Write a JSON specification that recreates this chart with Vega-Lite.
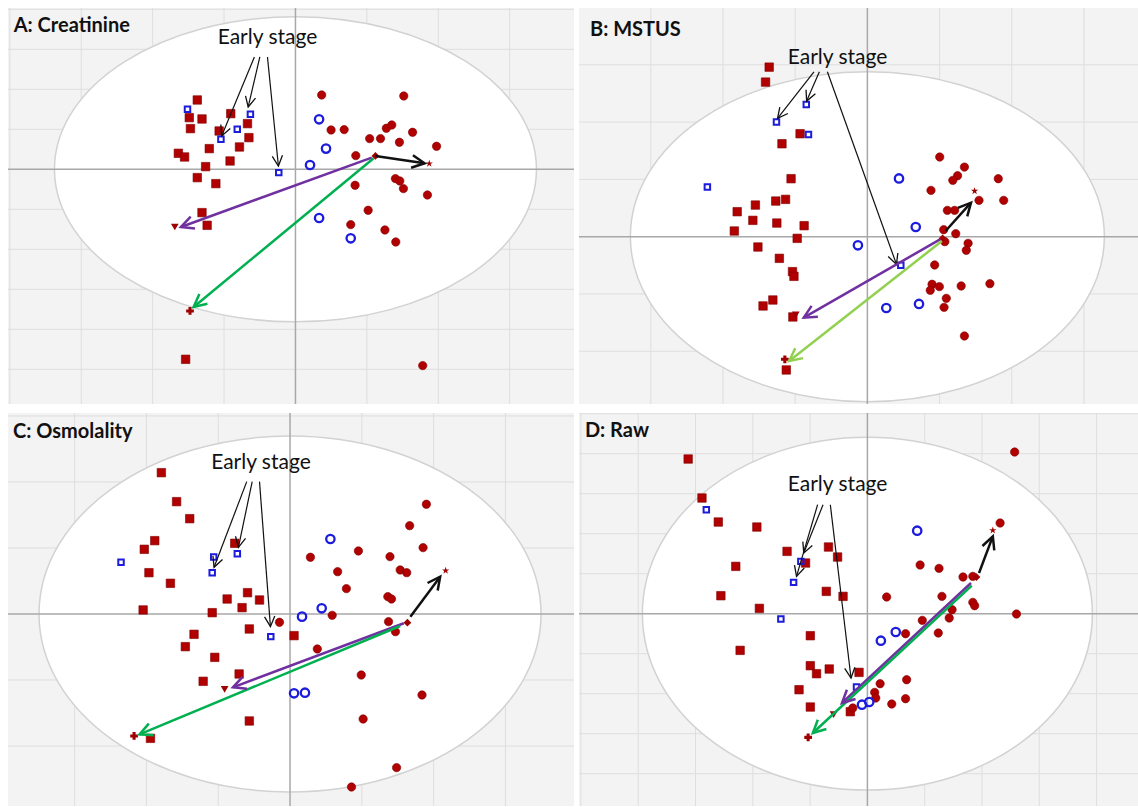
{
"$schema":"https://vega.github.io/schema/vega-lite/v6.json",
"background":"white",
"padding":{"left":7,"top":7,"right":0,"bottom":0},
"spacing":7,
"config":{"view":{"fill":"#f3f3f3","stroke":null},"axis":{"labels":false,"ticks":false,"domain":false,"grid":false,"title":null},"concat":{"spacing":3}},
"datasets":{
"A_pts":[
{"x":-1.375,"y":1.733,"g":"case"},{"x":-1.487,"y":1.292,"g":"case"},{"x":-1.309,"y":1.258,"g":"case"},{"x":-0.906,"y":1.392,"g":"case"},{"x":-0.672,"y":1.142,"g":"case"},{"x":-1.471,"y":1.017,"g":"case"},{"x":-1.069,"y":0.958,"g":"case"},{"x":-0.652,"y":0.792,"g":"case"},{"x":-1.207,"y":0.517,"g":"case"},{"x":-0.784,"y":0.558,"g":"case"},{"x":-1.64,"y":0.4,"g":"case"},{"x":-1.553,"y":0.308,"g":"case"},{"x":-0.916,"y":0.208,"g":"case"},{"x":-1.258,"y":0.067,"g":"case"},{"x":-1.375,"y":-0.208,"g":"case"},{"x":-1.115,"y":-0.358,"g":"case"},{"x":-1.309,"y":-1.083,"g":"case"},{"x":-1.237,"y":-1.4,"g":"case"},{"x":-1.538,"y":-4.75,"g":"case"},
{"x":-1.512,"y":1.5,"g":"case_test"},{"x":-1.044,"y":0.75,"g":"case_test"},{"x":-0.815,"y":1.0,"g":"case_test"},{"x":-0.631,"y":1.375,"g":"case_test"},{"x":-0.234,"y":-0.083,"g":"case_test"},
{"x":0.367,"y":1.858,"g":"control"},{"x":1.517,"y":1.833,"g":"control"},{"x":0.499,"y":0.983,"g":"control"},{"x":0.682,"y":0.992,"g":"control"},{"x":1.273,"y":1.025,"g":"control"},{"x":1.349,"y":1.108,"g":"control"},{"x":1.64,"y":0.925,"g":"control"},{"x":1.039,"y":0.767,"g":"control"},{"x":1.191,"y":0.767,"g":"control"},{"x":1.456,"y":0.675,"g":"control"},{"x":1.976,"y":0.575,"g":"control"},{"x":0.845,"y":0.342,"g":"control"},{"x":1.4,"y":-0.233,"g":"control"},{"x":1.461,"y":-0.292,"g":"control"},{"x":1.512,"y":-0.483,"g":"control"},{"x":0.835,"y":-0.4,"g":"control"},{"x":1.848,"y":-0.642,"g":"control"},{"x":1.018,"y":-1.025,"g":"control"},{"x":0.774,"y":-1.383,"g":"control"},{"x":1.253,"y":-1.517,"g":"control"},{"x":1.405,"y":-1.817,"g":"control"},{"x":1.782,"y":-4.908,"g":"control"},
{"x":0.331,"y":1.25,"g":"control_test"},{"x":0.428,"y":0.517,"g":"control_test"},{"x":0.204,"y":0.108,"g":"control_test"},{"x":0.331,"y":-1.217,"g":"control_test"},{"x":0.774,"y":-1.725,"g":"control_test"},
{"x":1.12,"y":0.333,"g":"origin"},{"x":1.874,"y":0.142,"g":"star"},{"x":-1.69,"y":-1.442,"g":"tri"},{"x":-1.477,"y":-3.542,"g":"plus"}],
"A_arr":[
{"x":-0.575,"y":2.808,"x2":-1.034,"y2":0.833,"k":"label"},{"x":-0.499,"y":2.808,"x2":-0.662,"y2":1.558,"k":"label"},{"x":-0.392,"y":2.808,"x2":-0.239,"y2":0.083,"k":"label"},
{"x":1.12,"y":0.333,"x2":1.808,"y2":0.15,"k":"shift"},{"x":1.069,"y":0.292,"x2":-1.604,"y2":-1.442,"k":"purple"},{"x":1.095,"y":0.275,"x2":-1.426,"y2":-3.442,"k":"green"}],
"B_pts":[
{"x":-1.36,"y":2.959,"g":"case"},{"x":-1.41,"y":2.698,"g":"case"},{"x":-0.932,"y":1.797,"g":"case"},{"x":-1.183,"y":1.622,"g":"case"},{"x":-1.057,"y":1.012,"g":"case"},{"x":-1.133,"y":0.651,"g":"case"},{"x":-1.269,"y":0.622,"g":"case"},{"x":-1.551,"y":0.552,"g":"case"},{"x":-1.803,"y":0.436,"g":"case"},{"x":-1.586,"y":0.285,"g":"case"},{"x":-1.254,"y":0.238,"g":"case"},{"x":-0.876,"y":0.192,"g":"case"},{"x":-1.843,"y":0.099,"g":"case"},{"x":-0.972,"y":-0.029,"g":"case"},{"x":-1.516,"y":-0.18,"g":"case"},{"x":-1.219,"y":-0.378,"g":"case"},{"x":-1.037,"y":-0.61,"g":"case"},{"x":-1.017,"y":-0.692,"g":"case"},{"x":-1.309,"y":-1.105,"g":"case"},{"x":-1.445,"y":-1.209,"g":"case"},{"x":-1.032,"y":-1.401,"g":"case"},{"x":-1.123,"y":-2.326,"g":"case"},
{"x":-0.846,"y":2.308,"g":"case_test"},{"x":-1.259,"y":2.0,"g":"case_test"},{"x":-0.816,"y":1.785,"g":"case_test"},{"x":-2.216,"y":0.866,"g":"case_test"},{"x":0.463,"y":-0.5,"g":"case_test"},
{"x":1.002,"y":1.39,"g":"control"},{"x":1.344,"y":1.215,"g":"control"},{"x":1.249,"y":1.064,"g":"control"},{"x":1.183,"y":0.983,"g":"control"},{"x":1.813,"y":1.012,"g":"control"},{"x":0.881,"y":0.808,"g":"control"},{"x":1.546,"y":0.634,"g":"control"},{"x":1.888,"y":0.634,"g":"control"},{"x":1.108,"y":0.459,"g":"control"},{"x":1.208,"y":0.459,"g":"control"},{"x":1.057,"y":0.122,"g":"control"},{"x":1.224,"y":0.052,"g":"control"},{"x":1.073,"y":-0.087,"g":"control"},{"x":1.395,"y":-0.116,"g":"control"},{"x":1.37,"y":-0.238,"g":"control"},{"x":0.932,"y":-0.494,"g":"control"},{"x":0.896,"y":-0.831,"g":"control"},{"x":0.997,"y":-0.872,"g":"control"},{"x":0.871,"y":-0.936,"g":"control"},{"x":1.299,"y":-0.86,"g":"control"},{"x":1.697,"y":-0.82,"g":"control"},{"x":1.093,"y":-1.076,"g":"control"},{"x":1.062,"y":-1.233,"g":"control"},{"x":1.344,"y":-1.733,"g":"control"},
{"x":0.438,"y":1.017,"g":"control_test"},{"x":0.67,"y":0.169,"g":"control_test"},{"x":-0.131,"y":-0.151,"g":"control_test"},{"x":0.262,"y":-1.244,"g":"control_test"},{"x":0.715,"y":-1.174,"g":"control_test"},
{"x":1.042,"y":-0.029,"g":"origin"},{"x":1.485,"y":0.797,"g":"star"},{"x":-0.992,"y":-1.366,"g":"tri"},{"x":-1.143,"y":-2.14,"g":"plus"}],
"B_arr":[
{"x":-0.74,"y":2.878,"x2":-1.244,"y2":2.064,"k":"label"},{"x":-0.665,"y":2.878,"x2":-0.841,"y2":2.366,"k":"label"},{"x":-0.554,"y":2.878,"x2":0.403,"y2":-0.483,"k":"label"},
{"x":1.083,"y":0.099,"x2":1.435,"y2":0.593,"k":"shift"},{"x":1.007,"y":-0.047,"x2":-0.881,"y2":-1.413,"k":"purple"},{"x":1.032,"y":-0.076,"x2":-1.083,"y2":-2.169,"k":"lightgreen"}],
"C_pts":[
{"x":-1.792,"y":2.141,"g":"case"},{"x":-1.58,"y":1.702,"g":"case"},{"x":-1.397,"y":1.444,"g":"case"},{"x":-1.884,"y":1.111,"g":"case"},{"x":-2.03,"y":0.98,"g":"case"},{"x":-0.77,"y":1.071,"g":"case"},{"x":-1.965,"y":0.626,"g":"case"},{"x":-1.666,"y":0.465,"g":"case"},{"x":-0.592,"y":0.323,"g":"case"},{"x":-0.876,"y":0.227,"g":"case"},{"x":-0.425,"y":0.212,"g":"case"},{"x":-0.668,"y":0.096,"g":"case"},{"x":-2.046,"y":0.061,"g":"case"},{"x":-1.084,"y":0.02,"g":"case"},{"x":-0.567,"y":-0.227,"g":"case"},{"x":-1.337,"y":-0.308,"g":"case"},{"x":0.056,"y":-0.328,"g":"case"},{"x":-1.458,"y":-0.495,"g":"case"},{"x":-1.048,"y":-0.657,"g":"case"},{"x":-0.709,"y":-0.909,"g":"case"},{"x":-1.21,"y":-1.02,"g":"case"},{"x":-0.567,"y":-1.621,"g":"case"},{"x":-1.944,"y":-1.884,"g":"case"},
{"x":-2.354,"y":0.783,"g":"case_test"},{"x":-1.063,"y":0.864,"g":"case_test"},{"x":-1.084,"y":0.626,"g":"case_test"},{"x":-0.734,"y":0.914,"g":"case_test"},{"x":-0.268,"y":-0.343,"g":"case_test"},
{"x":1.899,"y":1.662,"g":"control"},{"x":1.666,"y":1.338,"g":"control"},{"x":1.853,"y":1.005,"g":"control"},{"x":0.952,"y":0.955,"g":"control"},{"x":0.284,"y":0.859,"g":"control"},{"x":1.392,"y":0.869,"g":"control"},{"x":0.663,"y":0.641,"g":"control"},{"x":1.534,"y":0.667,"g":"control"},{"x":1.625,"y":0.626,"g":"control"},{"x":0.785,"y":0.384,"g":"control"},{"x":1.362,"y":0.263,"g":"control"},{"x":1.413,"y":0.227,"g":"control"},{"x":0.587,"y":-0.02,"g":"control"},{"x":-0.147,"y":-0.126,"g":"control"},{"x":1.372,"y":-0.116,"g":"control"},{"x":1.468,"y":-0.268,"g":"control"},{"x":0.38,"y":-0.53,"g":"control"},{"x":0.992,"y":-0.924,"g":"control"},{"x":1.838,"y":-1.227,"g":"control"},{"x":1.018,"y":-1.591,"g":"control"},{"x":1.484,"y":-2.328,"g":"control"},{"x":0.856,"y":-2.621,"g":"control"},
{"x":0.562,"y":1.136,"g":"control_test"},{"x":0.167,"y":-0.04,"g":"control_test"},{"x":0.441,"y":0.086,"g":"control_test"},{"x":0.056,"y":-1.202,"g":"control_test"},{"x":0.208,"y":-1.192,"g":"control_test"},
{"x":1.635,"y":-0.131,"g":"origin"},{"x":2.167,"y":0.657,"g":"star"},{"x":-0.911,"y":-1.141,"g":"tri"},{"x":-2.172,"y":-1.848,"g":"plus"}],
"C_arr":[
{"x":-0.603,"y":2.005,"x2":-1.058,"y2":0.707,"k":"label"},{"x":-0.527,"y":2.005,"x2":-0.719,"y2":1.01,"k":"label"},{"x":-0.425,"y":2.005,"x2":-0.273,"y2":-0.192,"k":"label"},
{"x":1.676,"y":-0.04,"x2":2.091,"y2":0.566,"k":"shift"},{"x":1.585,"y":-0.141,"x2":-0.795,"y2":-1.111,"k":"purple"},{"x":1.534,"y":-0.182,"x2":-2.096,"y2":-1.823,"k":"green"}],
"D_pts":[
{"x":-3.128,"y":3.867,"g":"case"},{"x":-2.887,"y":2.892,"g":"case"},{"x":-2.602,"y":2.292,"g":"case"},{"x":-1.929,"y":2.167,"g":"case"},{"x":-1.402,"y":1.558,"g":"case"},{"x":-0.679,"y":1.667,"g":"case"},{"x":-0.52,"y":1.417,"g":"case"},{"x":-1.079,"y":1.267,"g":"case"},{"x":-2.297,"y":1.183,"g":"case"},{"x":-0.717,"y":0.558,"g":"case"},{"x":-0.425,"y":0.433,"g":"case"},{"x":-2.557,"y":0.45,"g":"case"},{"x":-1.885,"y":0.133,"g":"case"},{"x":-0.996,"y":-0.55,"g":"case"},{"x":-2.221,"y":-0.917,"g":"case"},{"x":-0.996,"y":-1.3,"g":"case"},{"x":-0.888,"y":-1.5,"g":"case"},{"x":-0.666,"y":-1.383,"g":"case"},{"x":-0.146,"y":-1.467,"g":"case"},{"x":-1.193,"y":-1.9,"g":"case"},{"x":-0.996,"y":-2.333,"g":"case"},{"x":-0.298,"y":-2.45,"g":"case"},
{"x":-2.811,"y":2.6,"g":"case_test"},{"x":-1.161,"y":1.308,"g":"case_test"},{"x":-1.288,"y":0.783,"g":"case_test"},{"x":-1.51,"y":-0.133,"g":"case_test"},{"x":-0.19,"y":-1.833,"g":"case_test"},
{"x":2.57,"y":4.042,"g":"control"},{"x":2.316,"y":2.267,"g":"control"},{"x":0.92,"y":1.217,"g":"control"},{"x":1.25,"y":1.133,"g":"control"},{"x":1.669,"y":0.917,"g":"control"},{"x":1.84,"y":0.933,"g":"control"},{"x":0.336,"y":0.417,"g":"control"},{"x":1.301,"y":0.433,"g":"control"},{"x":1.84,"y":0.283,"g":"control"},{"x":1.872,"y":0.2,"g":"control"},{"x":1.478,"y":0.1,"g":"control"},{"x":1.428,"y":-0.108,"g":"control"},{"x":0.958,"y":-0.167,"g":"control"},{"x":2.602,"y":-0.008,"g":"control"},{"x":1.237,"y":-0.483,"g":"control"},{"x":0.666,"y":-0.5,"g":"control"},{"x":0.222,"y":-1.75,"g":"control"},{"x":0.685,"y":-1.65,"g":"control"},{"x":0.127,"y":-1.967,"g":"control"},{"x":0.146,"y":-2.108,"g":"control"},{"x":0.425,"y":-2.258,"g":"control"},{"x":0.666,"y":-2.125,"g":"control"},{"x":-0.254,"y":-2.358,"g":"control"},
{"x":0.869,"y":2.075,"g":"control_test"},{"x":0.495,"y":-0.458,"g":"control_test"},{"x":0.235,"y":-0.675,"g":"control_test"},{"x":-0.095,"y":-2.275,"g":"control_test"},{"x":0.032,"y":-2.208,"g":"control_test"},
{"x":1.904,"y":0.917,"g":"origin"},{"x":2.189,"y":2.083,"g":"star"},{"x":-0.59,"y":-2.525,"g":"tri"},{"x":-1.034,"y":-3.092,"g":"plus"}],
"D_arr":[
{"x":-0.869,"y":2.725,"x2":-1.237,"y2":0.933,"k":"label"},{"x":-0.774,"y":2.725,"x2":-1.11,"y2":1.517,"k":"label"},{"x":-0.647,"y":2.725,"x2":-0.286,"y2":-1.608,"k":"label"},
{"x":1.948,"y":1.017,"x2":2.189,"y2":1.933,"k":"shift"},{"x":1.808,"y":0.767,"x2":-0.444,"y2":-2.233,"k":"purple"},{"x":1.821,"y":0.7,"x2":-0.952,"y2":-2.983,"k":"green"}]
},
"vconcat":[
{"hconcat":[
{"width":566,"height":396,"layer":[
{"data":{"values":[{"x":-4},{"x":-3},{"x":-2},{"x":-1},{"x":1},{"x":2},{"x":3}]},"mark":{"type":"rule","color":"#dedede","strokeWidth":1},"encoding":{"x":{"field":"x","type":"quantitative","scale":{"domain":[-4.026,3.901],"nice":false,"zero":false},"axis":null}}},
{"data":{"values":[{"y":-5},{"y":-4},{"y":-3},{"y":-2},{"y":-1},{"y":1},{"y":2},{"y":3},{"y":4}]},"mark":{"type":"rule","color":"#dedede","strokeWidth":1},"encoding":{"y":{"field":"y","type":"quantitative","scale":{"domain":[-5.8675,4.0325],"nice":false,"zero":false},"axis":null}}},
{"data":{"values":[{"x":0,"y":0}]},"mark":{"type":"point","shape":"M-1,0C-1,-0.3496 -0.5523,-0.633 0,-0.633C0.5523,-0.633 1,-0.3496 1,0C1,0.3496 0.5523,0.633 0,0.633C-0.5523,0.633 -1,0.3496 -1,0Z","size":232324,"filled":true,"fill":"white","stroke":"#d2d2d2","strokeWidth":1.5,"opacity":1},
 "encoding":{"x":{"field":"x","type":"quantitative","scale":{"domain":[-4.026,3.901],"nice":false,"zero":false},"axis":null},"y":{"field":"y","type":"quantitative","scale":{"domain":[-5.8675,4.0325],"nice":false,"zero":false},"axis":null}}},
{"data":{"values":[{"x":0}]},"mark":{"type":"rule","color":"#a8a8a8","strokeWidth":1.5},"encoding":{"x":{"field":"x","type":"quantitative","scale":{"domain":[-4.026,3.901],"nice":false,"zero":false},"axis":null}}},
{"data":{"values":[{"y":0}]},"mark":{"type":"rule","color":"#a8a8a8","strokeWidth":1.5},"encoding":{"y":{"field":"y","type":"quantitative","scale":{"domain":[-5.8675,4.0325],"nice":false,"zero":false},"axis":null}}},
{"data":{"name":"A_pts"},"transform":[{"filter":"datum.g=='case'"}],"mark":{"type":"point","shape":"square","filled":true,"fill":"#b00000","stroke":"#820000","strokeWidth":0.6,"size":72,"opacity":1},"encoding":{"x":{"field":"x","type":"quantitative","scale":{"domain":[-4.026,3.901],"nice":false,"zero":false},"axis":null},"y":{"field":"y","type":"quantitative","scale":{"domain":[-5.8675,4.0325],"nice":false,"zero":false},"axis":null}}},
{"data":{"name":"A_pts"},"transform":[{"filter":"datum.g=='control'"}],"mark":{"type":"point","shape":"circle","filled":true,"fill":"#b00000","stroke":"#820000","strokeWidth":0.6,"size":70,"opacity":1},"encoding":{"x":{"field":"x","type":"quantitative","scale":{"domain":[-4.026,3.901],"nice":false,"zero":false},"axis":null},"y":{"field":"y","type":"quantitative","scale":{"domain":[-5.8675,4.0325],"nice":false,"zero":false},"axis":null}}},
{"data":{"name":"A_pts"},"transform":[{"filter":"datum.g=='case_test'"}],"mark":{"type":"point","shape":"square","filled":false,"stroke":"#1c1cdc","strokeWidth":2,"size":30,"opacity":1},"encoding":{"x":{"field":"x","type":"quantitative","scale":{"domain":[-4.026,3.901],"nice":false,"zero":false},"axis":null},"y":{"field":"y","type":"quantitative","scale":{"domain":[-5.8675,4.0325],"nice":false,"zero":false},"axis":null}}},
{"data":{"name":"A_pts"},"transform":[{"filter":"datum.g=='control_test'"}],"mark":{"type":"point","shape":"circle","filled":false,"stroke":"#1c1cdc","strokeWidth":2.3,"size":70,"opacity":1},"encoding":{"x":{"field":"x","type":"quantitative","scale":{"domain":[-4.026,3.901],"nice":false,"zero":false},"axis":null},"y":{"field":"y","type":"quantitative","scale":{"domain":[-5.8675,4.0325],"nice":false,"zero":false},"axis":null}}},
{"data":{"name":"A_pts"},"transform":[{"filter":"indexof(['origin','star','tri','plus'],datum.g)>=0"}],"mark":{"type":"point","filled":true,"fill":"#a00000","size":60,"opacity":1},"encoding":{"x":{"field":"x","type":"quantitative","scale":{"domain":[-4.026,3.901],"nice":false,"zero":false},"axis":null},"y":{"field":"y","type":"quantitative","scale":{"domain":[-5.8675,4.0325],"nice":false,"zero":false},"axis":null},"shape":{"field":"g","type":"nominal","scale":{"domain":["origin","star","tri","plus"],"range":["diamond","M0,-1L0.2245,-0.309L0.951,-0.309L0.363,0.118L0.588,0.809L0,0.382L-0.588,0.809L-0.363,0.118L-0.951,-0.309L-0.2245,-0.309Z","triangle-down","cross"]},"legend":null}}},
{"data":{"name":"A_arr"},"transform":[{"filter":"datum.k=='label'"}],"mark":{"type":"rule","color":"#111111","strokeWidth":1.2},"encoding":{"x":{"field":"x","type":"quantitative","scale":{"domain":[-4.026,3.901],"nice":false,"zero":false},"axis":null},"y":{"field":"y","type":"quantitative","scale":{"domain":[-5.8675,4.0325],"nice":false,"zero":false},"axis":null},"x2":{"field":"x2"},"y2":{"field":"y2"}}},
{"data":{"name":"A_arr"},"transform":[{"filter":"datum.k=='label'"},{"calculate":"atan2((datum.x2-datum.x)*71.4,(datum.y2-datum.y)*40)*180/PI","as":"ang"}],"mark":{"type":"point","shape":"M-0.5,1L0,0L0.5,1","filled":false,"stroke":"#111111","strokeWidth":1.3,"size":420,"opacity":1},"encoding":{"x":{"field":"x2","type":"quantitative","scale":{"domain":[-4.026,3.901],"nice":false,"zero":false},"axis":null},"y":{"field":"y2","type":"quantitative","scale":{"domain":[-5.8675,4.0325],"nice":false,"zero":false},"axis":null},"angle":{"field":"ang","type":"quantitative","scale":null}}},
{"data":{"name":"A_arr"},"transform":[{"filter":"datum.k!='label'"}],"mark":{"type":"rule","strokeWidth":2.5},"encoding":{"x":{"field":"x","type":"quantitative","scale":{"domain":[-4.026,3.901],"nice":false,"zero":false},"axis":null},"y":{"field":"y","type":"quantitative","scale":{"domain":[-5.8675,4.0325],"nice":false,"zero":false},"axis":null},"x2":{"field":"x2"},"y2":{"field":"y2"},"color":{"field":"k","type":"nominal","scale":{"domain":["shift","purple","green","lightgreen"],"range":["#111111","#7030a0","#00b050","#92d050"]},"legend":null}}},
{"data":{"name":"A_arr"},"transform":[{"filter":"datum.k!='label'"},{"calculate":"atan2((datum.x2-datum.x)*71.4,(datum.y2-datum.y)*40)*180/PI","as":"ang"}],"mark":{"type":"point","shape":"M-0.5,1L0,0L0.5,1","filled":false,"strokeWidth":2.5,"size":640,"opacity":1},"encoding":{"x":{"field":"x2","type":"quantitative","scale":{"domain":[-4.026,3.901],"nice":false,"zero":false},"axis":null},"y":{"field":"y2","type":"quantitative","scale":{"domain":[-5.8675,4.0325],"nice":false,"zero":false},"axis":null},"angle":{"field":"ang","type":"quantitative","scale":null},"color":{"field":"k","type":"nominal","scale":{"domain":["shift","purple","green","lightgreen"],"range":["#111111","#7030a0","#00b050","#92d050"]},"legend":null}}},
{"data":{"values":[{"x":-0.392,"y":3.29,"t":"Early stage"}]},"mark":{"type":"text","font":"Lato","fontSize":21,"color":"#111111","align":"center","baseline":"middle"},"encoding":{"x":{"field":"x","type":"quantitative","scale":{"domain":[-4.026,3.901],"nice":false,"zero":false},"axis":null},"y":{"field":"y","type":"quantitative","scale":{"domain":[-5.8675,4.0325],"nice":false,"zero":false},"axis":null},"text":{"field":"t"}}},
{"data":{"values":[{"x":-3.946,"y":3.583,"t":"A: Creatinine"}]},"mark":{"type":"text","font":"Lato","fontSize":20,"fontWeight":"bold","color":"#111111","align":"left","baseline":"middle"},"encoding":{"x":{"field":"x","type":"quantitative","scale":{"domain":[-4.026,3.901],"nice":false,"zero":false},"axis":null},"y":{"field":"y","type":"quantitative","scale":{"domain":[-5.8675,4.0325],"nice":false,"zero":false},"axis":null},"text":{"field":"t"}}}
]},
{"width":560,"height":396,"layer":[
{"data":{"values":[{"x":-3},{"x":-2},{"x":-1},{"x":1},{"x":2},{"x":3}]},"mark":{"type":"rule","color":"#dedede","strokeWidth":1},"encoding":{"x":{"field":"x","type":"quantitative","scale":{"domain":[-3.994,3.762],"nice":false,"zero":false},"axis":null}}},
{"data":{"values":[{"y":-2},{"y":-1},{"y":1},{"y":2},{"y":3}]},"mark":{"type":"rule","color":"#dedede","strokeWidth":1},"encoding":{"y":{"field":"y","type":"quantitative","scale":{"domain":[-2.92,3.991],"nice":false,"zero":false},"axis":null}}},
{"data":{"values":[{"x":0,"y":0}]},"mark":{"type":"point","shape":"M-1,0C-1,-0.3844 -0.5523,-0.696 0,-0.696C0.5523,-0.696 1,-0.3844 1,0C1,0.3844 0.5523,0.696 0,0.696C-0.5523,0.696 -1,0.3844 -1,0Z","size":224676,"filled":true,"fill":"white","stroke":"#d2d2d2","strokeWidth":1.5,"opacity":1},
 "encoding":{"x":{"field":"x","type":"quantitative","scale":{"domain":[-3.994,3.762],"nice":false,"zero":false},"axis":null},"y":{"field":"y","type":"quantitative","scale":{"domain":[-2.92,3.991],"nice":false,"zero":false},"axis":null}}},
{"data":{"values":[{"x":0}]},"mark":{"type":"rule","color":"#a8a8a8","strokeWidth":1.5},"encoding":{"x":{"field":"x","type":"quantitative","scale":{"domain":[-3.994,3.762],"nice":false,"zero":false},"axis":null}}},
{"data":{"values":[{"y":0}]},"mark":{"type":"rule","color":"#a8a8a8","strokeWidth":1.5},"encoding":{"y":{"field":"y","type":"quantitative","scale":{"domain":[-2.92,3.991],"nice":false,"zero":false},"axis":null}}},
{"data":{"name":"B_pts"},"transform":[{"filter":"datum.g=='case'"}],"mark":{"type":"point","shape":"square","filled":true,"fill":"#b00000","stroke":"#820000","strokeWidth":0.6,"size":72,"opacity":1},"encoding":{"x":{"field":"x","type":"quantitative","scale":{"domain":[-3.994,3.762],"nice":false,"zero":false},"axis":null},"y":{"field":"y","type":"quantitative","scale":{"domain":[-2.92,3.991],"nice":false,"zero":false},"axis":null}}},
{"data":{"name":"B_pts"},"transform":[{"filter":"datum.g=='control'"}],"mark":{"type":"point","shape":"circle","filled":true,"fill":"#b00000","stroke":"#820000","strokeWidth":0.6,"size":70,"opacity":1},"encoding":{"x":{"field":"x","type":"quantitative","scale":{"domain":[-3.994,3.762],"nice":false,"zero":false},"axis":null},"y":{"field":"y","type":"quantitative","scale":{"domain":[-2.92,3.991],"nice":false,"zero":false},"axis":null}}},
{"data":{"name":"B_pts"},"transform":[{"filter":"datum.g=='case_test'"}],"mark":{"type":"point","shape":"square","filled":false,"stroke":"#1c1cdc","strokeWidth":2,"size":30,"opacity":1},"encoding":{"x":{"field":"x","type":"quantitative","scale":{"domain":[-3.994,3.762],"nice":false,"zero":false},"axis":null},"y":{"field":"y","type":"quantitative","scale":{"domain":[-2.92,3.991],"nice":false,"zero":false},"axis":null}}},
{"data":{"name":"B_pts"},"transform":[{"filter":"datum.g=='control_test'"}],"mark":{"type":"point","shape":"circle","filled":false,"stroke":"#1c1cdc","strokeWidth":2.3,"size":70,"opacity":1},"encoding":{"x":{"field":"x","type":"quantitative","scale":{"domain":[-3.994,3.762],"nice":false,"zero":false},"axis":null},"y":{"field":"y","type":"quantitative","scale":{"domain":[-2.92,3.991],"nice":false,"zero":false},"axis":null}}},
{"data":{"name":"B_pts"},"transform":[{"filter":"indexof(['origin','star','tri','plus'],datum.g)>=0"}],"mark":{"type":"point","filled":true,"fill":"#a00000","size":60,"opacity":1},"encoding":{"x":{"field":"x","type":"quantitative","scale":{"domain":[-3.994,3.762],"nice":false,"zero":false},"axis":null},"y":{"field":"y","type":"quantitative","scale":{"domain":[-2.92,3.991],"nice":false,"zero":false},"axis":null},"shape":{"field":"g","type":"nominal","scale":{"domain":["origin","star","tri","plus"],"range":["diamond","M0,-1L0.2245,-0.309L0.951,-0.309L0.363,0.118L0.588,0.809L0,0.382L-0.588,0.809L-0.363,0.118L-0.951,-0.309L-0.2245,-0.309Z","triangle-down","cross"]},"legend":null}}},
{"data":{"name":"B_arr"},"transform":[{"filter":"datum.k=='label'"}],"mark":{"type":"rule","color":"#111111","strokeWidth":1.2},"encoding":{"x":{"field":"x","type":"quantitative","scale":{"domain":[-3.994,3.762],"nice":false,"zero":false},"axis":null},"y":{"field":"y","type":"quantitative","scale":{"domain":[-2.92,3.991],"nice":false,"zero":false},"axis":null},"x2":{"field":"x2"},"y2":{"field":"y2"}}},
{"data":{"name":"B_arr"},"transform":[{"filter":"datum.k=='label'"},{"calculate":"atan2((datum.x2-datum.x)*72.2,(datum.y2-datum.y)*57.3)*180/PI","as":"ang"}],"mark":{"type":"point","shape":"M-0.5,1L0,0L0.5,1","filled":false,"stroke":"#111111","strokeWidth":1.3,"size":420,"opacity":1},"encoding":{"x":{"field":"x2","type":"quantitative","scale":{"domain":[-3.994,3.762],"nice":false,"zero":false},"axis":null},"y":{"field":"y2","type":"quantitative","scale":{"domain":[-2.92,3.991],"nice":false,"zero":false},"axis":null},"angle":{"field":"ang","type":"quantitative","scale":null}}},
{"data":{"name":"B_arr"},"transform":[{"filter":"datum.k!='label'"}],"mark":{"type":"rule","strokeWidth":2.5},"encoding":{"x":{"field":"x","type":"quantitative","scale":{"domain":[-3.994,3.762],"nice":false,"zero":false},"axis":null},"y":{"field":"y","type":"quantitative","scale":{"domain":[-2.92,3.991],"nice":false,"zero":false},"axis":null},"x2":{"field":"x2"},"y2":{"field":"y2"},"color":{"field":"k","type":"nominal","scale":{"domain":["shift","purple","green","lightgreen"],"range":["#111111","#7030a0","#00b050","#92d050"]},"legend":null}}},
{"data":{"name":"B_arr"},"transform":[{"filter":"datum.k!='label'"},{"calculate":"atan2((datum.x2-datum.x)*72.2,(datum.y2-datum.y)*57.3)*180/PI","as":"ang"}],"mark":{"type":"point","shape":"M-0.5,1L0,0L0.5,1","filled":false,"strokeWidth":2.5,"size":640,"opacity":1},"encoding":{"x":{"field":"x2","type":"quantitative","scale":{"domain":[-3.994,3.762],"nice":false,"zero":false},"axis":null},"y":{"field":"y2","type":"quantitative","scale":{"domain":[-2.92,3.991],"nice":false,"zero":false},"axis":null},"angle":{"field":"ang","type":"quantitative","scale":null},"color":{"field":"k","type":"nominal","scale":{"domain":["shift","purple","green","lightgreen"],"range":["#111111","#7030a0","#00b050","#92d050"]},"legend":null}}},
{"data":{"values":[{"x":-0.413,"y":3.11,"t":"Early stage"}]},"mark":{"type":"text","font":"Lato","fontSize":21,"color":"#111111","align":"center","baseline":"middle"},"encoding":{"x":{"field":"x","type":"quantitative","scale":{"domain":[-3.994,3.762],"nice":false,"zero":false},"axis":null},"y":{"field":"y","type":"quantitative","scale":{"domain":[-2.92,3.991],"nice":false,"zero":false},"axis":null},"text":{"field":"t"}}},
{"data":{"values":[{"x":-3.842,"y":3.599,"t":"B: MSTUS"}]},"mark":{"type":"text","font":"Lato","fontSize":20,"fontWeight":"bold","color":"#111111","align":"left","baseline":"middle"},"encoding":{"x":{"field":"x","type":"quantitative","scale":{"domain":[-3.994,3.762],"nice":false,"zero":false},"axis":null},"y":{"field":"y","type":"quantitative","scale":{"domain":[-2.92,3.991],"nice":false,"zero":false},"axis":null},"text":{"field":"t"}}}
]}
]},
{"hconcat":[
{"width":566,"height":393,"layer":[
{"data":{"values":[{"x":-3},{"x":-2},{"x":-1},{"x":1},{"x":2},{"x":3}]},"mark":{"type":"rule","color":"#dedede","strokeWidth":1},"encoding":{"x":{"field":"x","type":"quantitative","scale":{"domain":[-3.928,3.955],"nice":false,"zero":false},"axis":null}}},
{"data":{"values":[{"y":-2},{"y":-1},{"y":1},{"y":2},{"y":3}]},"mark":{"type":"rule","color":"#dedede","strokeWidth":1},"encoding":{"y":{"field":"y","type":"quantitative","scale":{"domain":[-2.909,3.045],"nice":false,"zero":false},"axis":null}}},
{"data":{"values":[{"x":0,"y":0}]},"mark":{"type":"point","shape":"M-1,0C-1,-0.3916 -0.5523,-0.709 0,-0.709C0.5523,-0.709 1,-0.3916 1,0C1,0.3916 0.5523,0.709 0,0.709C-0.5523,0.709 -1,0.3916 -1,0Z","size":252004,"filled":true,"fill":"white","stroke":"#d2d2d2","strokeWidth":1.5,"opacity":1},
 "encoding":{"x":{"field":"x","type":"quantitative","scale":{"domain":[-3.928,3.955],"nice":false,"zero":false},"axis":null},"y":{"field":"y","type":"quantitative","scale":{"domain":[-2.909,3.045],"nice":false,"zero":false},"axis":null}}},
{"data":{"values":[{"x":0}]},"mark":{"type":"rule","color":"#a8a8a8","strokeWidth":1.5},"encoding":{"x":{"field":"x","type":"quantitative","scale":{"domain":[-3.928,3.955],"nice":false,"zero":false},"axis":null}}},
{"data":{"values":[{"y":0}]},"mark":{"type":"rule","color":"#a8a8a8","strokeWidth":1.5},"encoding":{"y":{"field":"y","type":"quantitative","scale":{"domain":[-2.909,3.045],"nice":false,"zero":false},"axis":null}}},
{"data":{"name":"C_pts"},"transform":[{"filter":"datum.g=='case'"}],"mark":{"type":"point","shape":"square","filled":true,"fill":"#b00000","stroke":"#820000","strokeWidth":0.6,"size":72,"opacity":1},"encoding":{"x":{"field":"x","type":"quantitative","scale":{"domain":[-3.928,3.955],"nice":false,"zero":false},"axis":null},"y":{"field":"y","type":"quantitative","scale":{"domain":[-2.909,3.045],"nice":false,"zero":false},"axis":null}}},
{"data":{"name":"C_pts"},"transform":[{"filter":"datum.g=='control'"}],"mark":{"type":"point","shape":"circle","filled":true,"fill":"#b00000","stroke":"#820000","strokeWidth":0.6,"size":70,"opacity":1},"encoding":{"x":{"field":"x","type":"quantitative","scale":{"domain":[-3.928,3.955],"nice":false,"zero":false},"axis":null},"y":{"field":"y","type":"quantitative","scale":{"domain":[-2.909,3.045],"nice":false,"zero":false},"axis":null}}},
{"data":{"name":"C_pts"},"transform":[{"filter":"datum.g=='case_test'"}],"mark":{"type":"point","shape":"square","filled":false,"stroke":"#1c1cdc","strokeWidth":2,"size":30,"opacity":1},"encoding":{"x":{"field":"x","type":"quantitative","scale":{"domain":[-3.928,3.955],"nice":false,"zero":false},"axis":null},"y":{"field":"y","type":"quantitative","scale":{"domain":[-2.909,3.045],"nice":false,"zero":false},"axis":null}}},
{"data":{"name":"C_pts"},"transform":[{"filter":"datum.g=='control_test'"}],"mark":{"type":"point","shape":"circle","filled":false,"stroke":"#1c1cdc","strokeWidth":2.3,"size":70,"opacity":1},"encoding":{"x":{"field":"x","type":"quantitative","scale":{"domain":[-3.928,3.955],"nice":false,"zero":false},"axis":null},"y":{"field":"y","type":"quantitative","scale":{"domain":[-2.909,3.045],"nice":false,"zero":false},"axis":null}}},
{"data":{"name":"C_pts"},"transform":[{"filter":"indexof(['origin','star','tri','plus'],datum.g)>=0"}],"mark":{"type":"point","filled":true,"fill":"#a00000","size":60,"opacity":1},"encoding":{"x":{"field":"x","type":"quantitative","scale":{"domain":[-3.928,3.955],"nice":false,"zero":false},"axis":null},"y":{"field":"y","type":"quantitative","scale":{"domain":[-2.909,3.045],"nice":false,"zero":false},"axis":null},"shape":{"field":"g","type":"nominal","scale":{"domain":["origin","star","tri","plus"],"range":["diamond","M0,-1L0.2245,-0.309L0.951,-0.309L0.363,0.118L0.588,0.809L0,0.382L-0.588,0.809L-0.363,0.118L-0.951,-0.309L-0.2245,-0.309Z","triangle-down","cross"]},"legend":null}}},
{"data":{"name":"C_arr"},"transform":[{"filter":"datum.k=='label'"}],"mark":{"type":"rule","color":"#111111","strokeWidth":1.2},"encoding":{"x":{"field":"x","type":"quantitative","scale":{"domain":[-3.928,3.955],"nice":false,"zero":false},"axis":null},"y":{"field":"y","type":"quantitative","scale":{"domain":[-2.909,3.045],"nice":false,"zero":false},"axis":null},"x2":{"field":"x2"},"y2":{"field":"y2"}}},
{"data":{"name":"C_arr"},"transform":[{"filter":"datum.k=='label'"},{"calculate":"atan2((datum.x2-datum.x)*71.8,(datum.y2-datum.y)*66)*180/PI","as":"ang"}],"mark":{"type":"point","shape":"M-0.5,1L0,0L0.5,1","filled":false,"stroke":"#111111","strokeWidth":1.3,"size":420,"opacity":1},"encoding":{"x":{"field":"x2","type":"quantitative","scale":{"domain":[-3.928,3.955],"nice":false,"zero":false},"axis":null},"y":{"field":"y2","type":"quantitative","scale":{"domain":[-2.909,3.045],"nice":false,"zero":false},"axis":null},"angle":{"field":"ang","type":"quantitative","scale":null}}},
{"data":{"name":"C_arr"},"transform":[{"filter":"datum.k!='label'"}],"mark":{"type":"rule","strokeWidth":2.5},"encoding":{"x":{"field":"x","type":"quantitative","scale":{"domain":[-3.928,3.955],"nice":false,"zero":false},"axis":null},"y":{"field":"y","type":"quantitative","scale":{"domain":[-2.909,3.045],"nice":false,"zero":false},"axis":null},"x2":{"field":"x2"},"y2":{"field":"y2"},"color":{"field":"k","type":"nominal","scale":{"domain":["shift","purple","green","lightgreen"],"range":["#111111","#7030a0","#00b050","#92d050"]},"legend":null}}},
{"data":{"name":"C_arr"},"transform":[{"filter":"datum.k!='label'"},{"calculate":"atan2((datum.x2-datum.x)*71.8,(datum.y2-datum.y)*66)*180/PI","as":"ang"}],"mark":{"type":"point","shape":"M-0.5,1L0,0L0.5,1","filled":false,"strokeWidth":2.5,"size":640,"opacity":1},"encoding":{"x":{"field":"x2","type":"quantitative","scale":{"domain":[-3.928,3.955],"nice":false,"zero":false},"axis":null},"y":{"field":"y2","type":"quantitative","scale":{"domain":[-2.909,3.045],"nice":false,"zero":false},"axis":null},"angle":{"field":"ang","type":"quantitative","scale":null},"color":{"field":"k","type":"nominal","scale":{"domain":["shift","purple","green","lightgreen"],"range":["#111111","#7030a0","#00b050","#92d050"]},"legend":null}}},
{"data":{"values":[{"x":-0.405,"y":2.283,"t":"Early stage"}]},"mark":{"type":"text","font":"Lato","fontSize":21,"color":"#111111","align":"center","baseline":"middle"},"encoding":{"x":{"field":"x","type":"quantitative","scale":{"domain":[-3.928,3.955],"nice":false,"zero":false},"axis":null},"y":{"field":"y","type":"quantitative","scale":{"domain":[-2.909,3.045],"nice":false,"zero":false},"axis":null},"text":{"field":"t"}}},
{"data":{"values":[{"x":-3.858,"y":2.763,"t":"C: Osmolality"}]},"mark":{"type":"text","font":"Lato","fontSize":20,"fontWeight":"bold","color":"#111111","align":"left","baseline":"middle"},"encoding":{"x":{"field":"x","type":"quantitative","scale":{"domain":[-3.928,3.955],"nice":false,"zero":false},"axis":null},"y":{"field":"y","type":"quantitative","scale":{"domain":[-2.909,3.045],"nice":false,"zero":false},"axis":null},"text":{"field":"t"}}}
]},
{"width":560,"height":393,"layer":[
{"data":{"values":[{"x":-5},{"x":-4},{"x":-3},{"x":-2},{"x":-1},{"x":1},{"x":2},{"x":3},{"x":4}]},"mark":{"type":"rule","color":"#dedede","strokeWidth":1},"encoding":{"x":{"field":"x","type":"quantitative","scale":{"domain":[-5.033,4.74],"nice":false,"zero":false},"axis":null}}},
{"data":{"values":[{"y":-4},{"y":-3},{"y":-2},{"y":-1},{"y":1},{"y":2},{"y":3},{"y":4},{"y":5}]},"mark":{"type":"rule","color":"#dedede","strokeWidth":1},"encoding":{"y":{"field":"y","type":"quantitative","scale":{"domain":[-4.8075,5.0175],"nice":false,"zero":false},"axis":null}}},
{"data":{"values":[{"x":0,"y":0}]},"mark":{"type":"point","shape":"M-1,0C-1,-0.433 -0.5523,-0.784 0,-0.784C0.5523,-0.784 1,-0.433 1,0C1,0.433 0.5523,0.784 0,0.784C-0.5523,0.784 -1,0.433 -1,0Z","size":202500,"filled":true,"fill":"white","stroke":"#d2d2d2","strokeWidth":1.5,"opacity":1},
 "encoding":{"x":{"field":"x","type":"quantitative","scale":{"domain":[-5.033,4.74],"nice":false,"zero":false},"axis":null},"y":{"field":"y","type":"quantitative","scale":{"domain":[-4.8075,5.0175],"nice":false,"zero":false},"axis":null}}},
{"data":{"values":[{"x":0}]},"mark":{"type":"rule","color":"#a8a8a8","strokeWidth":1.5},"encoding":{"x":{"field":"x","type":"quantitative","scale":{"domain":[-5.033,4.74],"nice":false,"zero":false},"axis":null}}},
{"data":{"values":[{"y":0}]},"mark":{"type":"rule","color":"#a8a8a8","strokeWidth":1.5},"encoding":{"y":{"field":"y","type":"quantitative","scale":{"domain":[-4.8075,5.0175],"nice":false,"zero":false},"axis":null}}},
{"data":{"name":"D_pts"},"transform":[{"filter":"datum.g=='case'"}],"mark":{"type":"point","shape":"square","filled":true,"fill":"#b00000","stroke":"#820000","strokeWidth":0.6,"size":72,"opacity":1},"encoding":{"x":{"field":"x","type":"quantitative","scale":{"domain":[-5.033,4.74],"nice":false,"zero":false},"axis":null},"y":{"field":"y","type":"quantitative","scale":{"domain":[-4.8075,5.0175],"nice":false,"zero":false},"axis":null}}},
{"data":{"name":"D_pts"},"transform":[{"filter":"datum.g=='control'"}],"mark":{"type":"point","shape":"circle","filled":true,"fill":"#b00000","stroke":"#820000","strokeWidth":0.6,"size":70,"opacity":1},"encoding":{"x":{"field":"x","type":"quantitative","scale":{"domain":[-5.033,4.74],"nice":false,"zero":false},"axis":null},"y":{"field":"y","type":"quantitative","scale":{"domain":[-4.8075,5.0175],"nice":false,"zero":false},"axis":null}}},
{"data":{"name":"D_pts"},"transform":[{"filter":"datum.g=='case_test'"}],"mark":{"type":"point","shape":"square","filled":false,"stroke":"#1c1cdc","strokeWidth":2,"size":30,"opacity":1},"encoding":{"x":{"field":"x","type":"quantitative","scale":{"domain":[-5.033,4.74],"nice":false,"zero":false},"axis":null},"y":{"field":"y","type":"quantitative","scale":{"domain":[-4.8075,5.0175],"nice":false,"zero":false},"axis":null}}},
{"data":{"name":"D_pts"},"transform":[{"filter":"datum.g=='control_test'"}],"mark":{"type":"point","shape":"circle","filled":false,"stroke":"#1c1cdc","strokeWidth":2.3,"size":70,"opacity":1},"encoding":{"x":{"field":"x","type":"quantitative","scale":{"domain":[-5.033,4.74],"nice":false,"zero":false},"axis":null},"y":{"field":"y","type":"quantitative","scale":{"domain":[-4.8075,5.0175],"nice":false,"zero":false},"axis":null}}},
{"data":{"name":"D_pts"},"transform":[{"filter":"indexof(['origin','star','tri','plus'],datum.g)>=0"}],"mark":{"type":"point","filled":true,"fill":"#a00000","size":60,"opacity":1},"encoding":{"x":{"field":"x","type":"quantitative","scale":{"domain":[-5.033,4.74],"nice":false,"zero":false},"axis":null},"y":{"field":"y","type":"quantitative","scale":{"domain":[-4.8075,5.0175],"nice":false,"zero":false},"axis":null},"shape":{"field":"g","type":"nominal","scale":{"domain":["origin","star","tri","plus"],"range":["diamond","M0,-1L0.2245,-0.309L0.951,-0.309L0.363,0.118L0.588,0.809L0,0.382L-0.588,0.809L-0.363,0.118L-0.951,-0.309L-0.2245,-0.309Z","triangle-down","cross"]},"legend":null}}},
{"data":{"name":"D_arr"},"transform":[{"filter":"datum.k=='label'"}],"mark":{"type":"rule","color":"#111111","strokeWidth":1.2},"encoding":{"x":{"field":"x","type":"quantitative","scale":{"domain":[-5.033,4.74],"nice":false,"zero":false},"axis":null},"y":{"field":"y","type":"quantitative","scale":{"domain":[-4.8075,5.0175],"nice":false,"zero":false},"axis":null},"x2":{"field":"x2"},"y2":{"field":"y2"}}},
{"data":{"name":"D_arr"},"transform":[{"filter":"datum.k=='label'"},{"calculate":"atan2((datum.x2-datum.x)*57.3,(datum.y2-datum.y)*40)*180/PI","as":"ang"}],"mark":{"type":"point","shape":"M-0.5,1L0,0L0.5,1","filled":false,"stroke":"#111111","strokeWidth":1.3,"size":420,"opacity":1},"encoding":{"x":{"field":"x2","type":"quantitative","scale":{"domain":[-5.033,4.74],"nice":false,"zero":false},"axis":null},"y":{"field":"y2","type":"quantitative","scale":{"domain":[-4.8075,5.0175],"nice":false,"zero":false},"axis":null},"angle":{"field":"ang","type":"quantitative","scale":null}}},
{"data":{"name":"D_arr"},"transform":[{"filter":"datum.k!='label'"}],"mark":{"type":"rule","strokeWidth":2.5},"encoding":{"x":{"field":"x","type":"quantitative","scale":{"domain":[-5.033,4.74],"nice":false,"zero":false},"axis":null},"y":{"field":"y","type":"quantitative","scale":{"domain":[-4.8075,5.0175],"nice":false,"zero":false},"axis":null},"x2":{"field":"x2"},"y2":{"field":"y2"},"color":{"field":"k","type":"nominal","scale":{"domain":["shift","purple","green","lightgreen"],"range":["#111111","#7030a0","#00b050","#92d050"]},"legend":null}}},
{"data":{"name":"D_arr"},"transform":[{"filter":"datum.k!='label'"},{"calculate":"atan2((datum.x2-datum.x)*57.3,(datum.y2-datum.y)*40)*180/PI","as":"ang"}],"mark":{"type":"point","shape":"M-0.5,1L0,0L0.5,1","filled":false,"strokeWidth":2.5,"size":640,"opacity":1},"encoding":{"x":{"field":"x2","type":"quantitative","scale":{"domain":[-5.033,4.74],"nice":false,"zero":false},"axis":null},"y":{"field":"y2","type":"quantitative","scale":{"domain":[-4.8075,5.0175],"nice":false,"zero":false},"axis":null},"angle":{"field":"ang","type":"quantitative","scale":null},"color":{"field":"k","type":"nominal","scale":{"domain":["shift","purple","green","lightgreen"],"range":["#111111","#7030a0","#00b050","#92d050"]},"legend":null}}},
{"data":{"values":[{"x":-0.52,"y":3.225,"t":"Early stage"}]},"mark":{"type":"text","font":"Lato","fontSize":21,"color":"#111111","align":"center","baseline":"middle"},"encoding":{"x":{"field":"x","type":"quantitative","scale":{"domain":[-5.033,4.74],"nice":false,"zero":false},"axis":null},"y":{"field":"y","type":"quantitative","scale":{"domain":[-4.8075,5.0175],"nice":false,"zero":false},"axis":null},"text":{"field":"t"}}},
{"data":{"values":[{"x":-4.93,"y":4.558,"t":"D: Raw"}]},"mark":{"type":"text","font":"Lato","fontSize":20,"fontWeight":"bold","color":"#111111","align":"left","baseline":"middle"},"encoding":{"x":{"field":"x","type":"quantitative","scale":{"domain":[-5.033,4.74],"nice":false,"zero":false},"axis":null},"y":{"field":"y","type":"quantitative","scale":{"domain":[-4.8075,5.0175],"nice":false,"zero":false},"axis":null},"text":{"field":"t"}}}
]}
]}
]
}
